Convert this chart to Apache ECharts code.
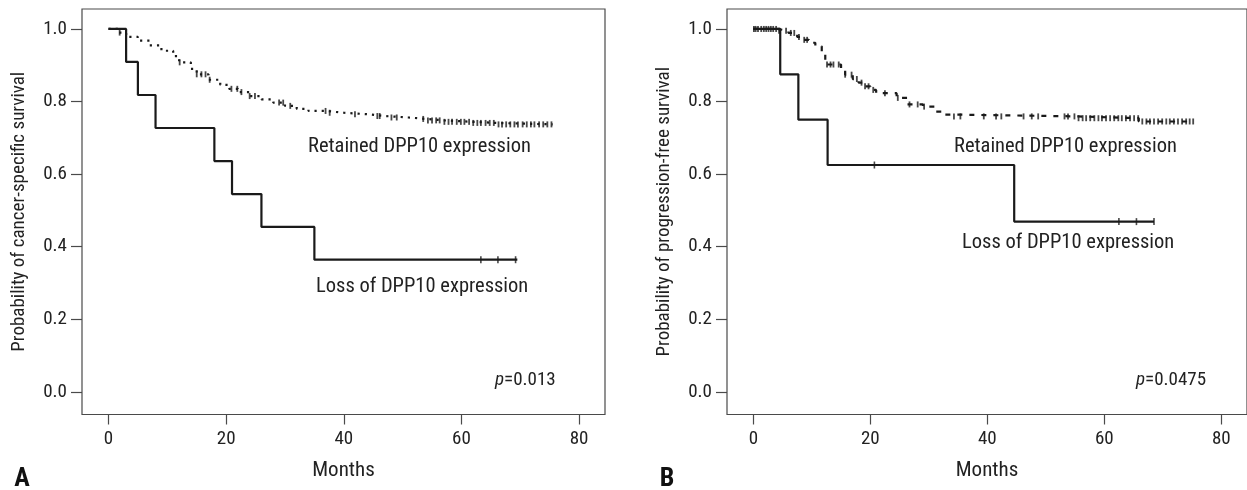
<!DOCTYPE html>
<html>
<head>
<meta charset="utf-8">
<script src="https://cdn.jsdelivr.net/npm/echarts@6/dist/echarts.min.js"></script>
<style>
html,body{margin:0;padding:0;background:#fff;}
#chart{width:1247px;height:490px;}
</style>
</head>
<body>
<div id="chart"></div>
<script>
// ---- Data ----
const xTicks = [0, 20, 40, 60, 80];
const yTicks = [0, 0.2, 0.4, 0.6, 0.8, 1.0];

// Panel A: cancer-specific survival, Kaplan-Meier steps [month, survival]
const aRetainedSteps = [[0,1.0],[1.8,0.99],[3,0.978],[5,0.968],[7,0.955],[9,0.94],[11,0.925],[12,0.908],[14,0.89],[15,0.875],[17,0.86],[19,0.846],[20.5,0.835],[22,0.826],[24,0.815],[26,0.806],[28,0.797],[30,0.788],[32,0.78],[34,0.774],[37,0.769],[40,0.765],[44,0.76],[47,0.756],[51,0.752],[54,0.748],[57,0.744],[62,0.741],[66,0.737],[75.5,0.737]];
const aRetainedCensor = [1.9,12.1,15,15.8,16.5,17.2,20.9,21.9,22.6,24,24.9,29,29.7,30.9,36.9,37.6,41.9,45.7,46.1,48.1,49,53.5,54.3,55,55.7,56.3,57.1,57.8,58.4,59.2,59.9,60.5,61.3,62,62.7,63.3,64.1,64.8,65.5,66.3,66.9,67.6,68.3,69,69.6,70.4,71.1,71.8,72.4,73.2,73.9,74.6,75.3];
const aLossSteps = [[0,1.0],[3,0.909],[5,0.818],[8,0.727],[18,0.636],[21,0.545],[26,0.4545],[35,0.364],[69.5,0.364]];
const aLossCensor = [63.3,66.2,69.2];

// Panel B: progression-free survival
const bRetainedSteps = [[0,1.0],[4.1,0.995],[6,0.989],[7.5,0.978],[8.5,0.97],[9.5,0.962],[10.6,0.952],[11.7,0.935],[12.3,0.902],[15,0.89],[15.7,0.874],[17,0.862],[18,0.852],[19,0.842],[20,0.832],[21,0.823],[24.5,0.81],[26.3,0.792],[29,0.786],[31,0.772],[32.6,0.764],[34.2,0.759],[55.5,0.754],[65.9,0.745],[75.3,0.745]];
const bRetainedCensor = [0.1,0.4,0.8,1.35,1.8,2.2,2.6,3.0,3.4,3.9,4.4,5.6,6.4,7.0,7.8,8.7,9.2,12.6,13.2,13.7,14.6,15.7,16.8,17.7,18.5,19.1,19.7,20.5,22.5,24.7,26.7,28.1,29.2,34.3,35.4,39.4,41.5,42.4,46.2,47.6,48.7,53.2,53.8,54.9,55.6,56.3,56.9,57.6,58.3,59,59.6,60.3,61,61.7,62.4,63,63.7,64.4,65.1,65.8,66.5,67.2,67.8,68.5,69.2,69.9,70.6,71.2,71.9,72.6,73.3,74,74.6,75.2];
const bLossSteps = [[0,1.0],[4.6,0.875],[7.7,0.75],[12.7,0.625],[44.6,0.469],[68.5,0.469]];
const bLossCensor = [20.7,62.5,65.5,68.5];

// ---- Helpers ----
function survAt(steps, t){
  let s = steps[0][1];
  for (const p of steps){ if (p[0] <= t) s = p[1]; }
  return s;
}
function censorPts(steps, times){ return times.map(t => [t, survAt(steps, t)]); }

const FONT = "'Roboto Condensed','Noto Sans Condensed','Open Sans Condensed','Liberation Sans Narrow','DejaVu Sans Condensed',sans-serif";
const INK = '#1a1a1a';
const AXC = '#4a4a4a';
const TXT = '#222';

function xAxisCfg(gi){
  return {
    gridIndex: gi, type: 'value', min: -4.5, max: 84.4,
    name: 'Months', nameLocation: 'middle', nameGap: 46,
    nameTextStyle: {fontFamily: FONT, fontSize: 21, color: TXT},
    axisLine: {show: false, onZero: false},
    axisTick: {show: true, length: 10, inside: false, customValues: xTicks, lineStyle: {color: AXC, width: 1.2}},
    axisLabel: {customValues: xTicks, fontFamily: FONT, fontSize: 19, color: TXT, margin: 15},
    splitLine: {show: false}
  };
}
function yAxisCfg(gi, name){
  return {
    gridIndex: gi, type: 'value', min: -0.0626, max: 1.055,
    name: name, nameLocation: 'middle', nameGap: 53,
    nameTextStyle: {fontFamily: FONT, fontSize: 19, color: TXT},
    axisLine: {show: false, onZero: false},
    axisTick: {show: true, length: 11, customValues: yTicks, lineStyle: {color: AXC, width: 1.2}},
    axisLabel: {customValues: yTicks, fontFamily: FONT, fontSize: 19, color: TXT, margin: 15,
      formatter: v => Number(v).toFixed(1)},
    splitLine: {show: false}
  };
}
function stepLine(gi, data, dashType){
  return {
    type: 'line', xAxisIndex: gi, yAxisIndex: gi, data: data, step: 'end',
    symbol: 'none', silent: true,
    lineStyle: {color: INK, width: 2.2, type: dashType || 'solid', cap: 'butt'}
  };
}
function censor(gi, data, w, h){
  return {
    type: 'scatter', xAxisIndex: gi, yAxisIndex: gi, data: data,
    symbol: 'rect', symbolSize: [w, h], silent: true,
    itemStyle: {color: INK}
  };
}
function txt(x, y, s, size, align){
  return {type: 'text', x: x, y: y, silent: true,
    style: {text: s, fontFamily: FONT, fontSize: size || 20.5, fill: TXT,
      textAlign: align || 'left', textVerticalAlign: 'middle'}};
}
function pval(x, y, val){
  return {type: 'text', x: x, y: y, silent: true,
    style: {text: '{i|p}{n|=' + val + '}', textAlign: 'left', textVerticalAlign: 'middle',
      rich: {i: {fontFamily: FONT, fontSize: 19, fontStyle: 'italic', fill: TXT},
             n: {fontFamily: FONT, fontSize: 19, fill: TXT}}}};
}

const chart = echarts.init(document.getElementById('chart'), null, {renderer: 'canvas'});
chart.setOption({
  animation: false,
  backgroundColor: '#fff',
  grid: [
    {left: 82, top: 9, width: 523, height: 405.5, show: true, borderColor: AXC, borderWidth: 1.2, backgroundColor: 'transparent'},
    {left: 727, top: 9, width: 527, height: 405.5, show: true, borderColor: AXC, borderWidth: 1.2, backgroundColor: 'transparent'}
  ],
  xAxis: [xAxisCfg(0), xAxisCfg(1)],
  yAxis: [yAxisCfg(0, 'Probability of cancer-specific survival'), yAxisCfg(1, 'Probability of progression-free survival')],
  series: [
    stepLine(0, aRetainedSteps, [2.2, 5]),
    censor(0, censorPts(aRetainedSteps, aRetainedCensor), 1.8, 6),
    stepLine(0, aLossSteps, 'solid'),
    censor(0, censorPts(aLossSteps, aLossCensor), 1.6, 7),
    stepLine(1, bRetainedSteps, [5, 7]),
    censor(1, censorPts(bRetainedSteps, bRetainedCensor), 1.8, 6),
    stepLine(1, bLossSteps, 'solid'),
    censor(1, censorPts(bLossSteps, bLossCensor), 1.6, 7)
  ],
  graphic: [
    txt(308, 147, 'Retained DPP10 expression'),
    txt(316, 287, 'Loss of DPP10 expression'),
    pval(495, 380, '0.013'),
    txt(954, 147, 'Retained DPP10 expression'),
    txt(962, 243, 'Loss of DPP10 expression'),
    pval(1136, 380, '0.0475'),
    {type: 'text', x: 22, y: 479, silent: true, style: {text: 'A', fontFamily: FONT, fontSize: 26, fontWeight: 'bold', fill: '#111', textAlign: 'center', textVerticalAlign: 'middle'}},
    {type: 'text', x: 667, y: 479, silent: true, style: {text: 'B', fontFamily: FONT, fontSize: 26, fontWeight: 'bold', fill: '#111', textAlign: 'center', textVerticalAlign: 'middle'}}
  ]
});
</script>
</body>
</html>
